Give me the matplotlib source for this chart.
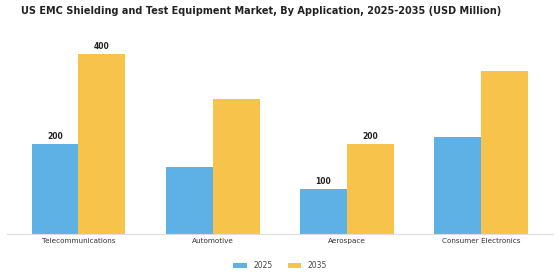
import matplotlib
matplotlib.use("Agg")
import matplotlib.pyplot as plt
import numpy as np

# chart data
categories = ["Telecommunications", "Automotive", "Aerospace", "Consumer Electronics"]
years = ["2025", "2035"]
values_2025 = [200, 150, 100, 215]
values_2035 = [400, 300, 200, 362]
labelled_2025 = [True, False, True, False]
labelled_2035 = [True, False, True, False]

colors = ["#5DB1E4", "#F8C34B"]

fig = plt.figure(figsize=(5.6, 2.8), dpi=100)
ax = fig.add_axes([0.012, 0.164, 0.975, 0.675])

x = np.arange(len(categories))
width = 0.35
bars1 = ax.bar(x - width / 2, values_2025, width, color=colors[0], label=years[0])
bars2 = ax.bar(x + width / 2, values_2035, width, color=colors[1], label=years[1])

for bars, vals, flags in [(bars1, values_2025, labelled_2025), (bars2, values_2035, labelled_2035)]:
    for b, v, f in zip(bars, vals, flags):
        if f:
            ax.annotate(str(v), (b.get_x() + b.get_width() / 2, v), xytext=(0, 2.5),
                        textcoords="offset points", ha="center", va="bottom",
                        fontsize=5.5, fontweight="bold", color="#222222")

ax.set_ylim(0, 420)
ax.set_xticks(x)
ax.set_xticklabels(categories, fontsize=5.2, color="#333333")
ax.tick_params(axis="x", length=0, pad=3)
ax.set_yticks([])
for s in ["top", "right", "left"]:
    ax.spines[s].set_visible(False)
ax.spines["bottom"].set_color("#dddddd")
ax.spines["bottom"].set_linewidth(0.8)

fig.text(0.467, 0.962, "US EMC Shielding and Test Equipment Market, By Application, 2025-2035 (USD Million)",
         ha="center", va="center", fontsize=7.0, fontweight="bold", color="#222222")

fig.legend(loc="center", bbox_to_anchor=(0.5, 0.052), ncol=2, frameon=False,
           fontsize=5.5, handlelength=1.8, handleheight=0.6, columnspacing=2.0,
           labelcolor="#444444")

fig.savefig("out.png", dpi=100)
